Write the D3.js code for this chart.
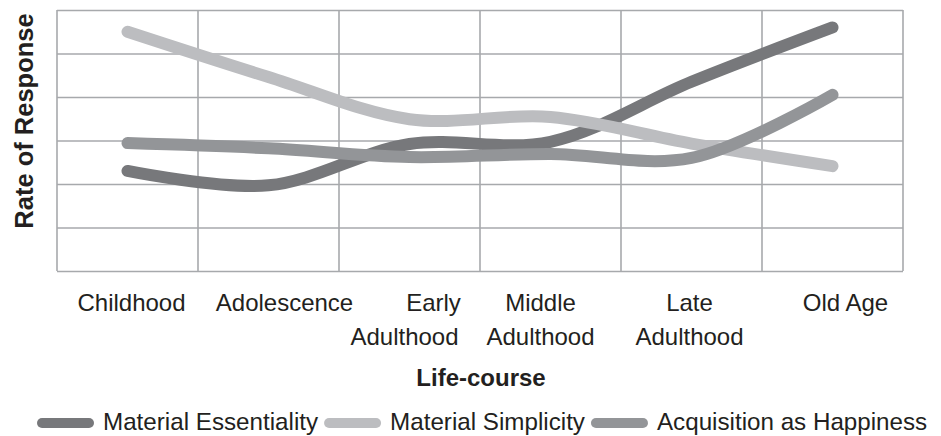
<!DOCTYPE html>
<html>
<head>
<meta charset="utf-8">
<script src="https://cdn.jsdelivr.net/npm/d3@7"></script>
<style>
  body { margin: 0; background: #fff; }
  svg { display: block; font-family: "Liberation Sans", Arial, sans-serif; }
  .grid line, .grid path { stroke: #a7a9ac; stroke-width: 1.6; }
  .grid text { display: none; }
  .xlab text { font-size: 24px; fill: #231f20; }
</style>
</head>
<body>
<div class="chart"></div>
<script>
// stages of life on the x axis
var stages = ["Childhood", "Adolescence", "Early Adulthood", "Middle Adulthood", "Late Adulthood", "Old Age"];
var stageLines = [["Childhood"], ["Adolescence"], ["Early", "Adulthood"], ["Middle", "Adulthood"], ["Late", "Adulthood"], ["Old Age"]];

var seriesNames = ["Material Essentiality", "Material Simplicity", "Acquisition as Happiness"];
var essentiality = [2.3, 1.97, 2.92, 2.97, 4.35, 5.6];
var simplicity = [5.5, 4.46, 3.49, 3.54, 2.93, 2.41];
var acquisition = [2.94, 2.82, 2.62, 2.69, 2.6, 4.05];
var yTicks = [0, 1, 2, 3, 4, 5, 6];

var colors = ["#77787b", "#bcbdc0", "#939598"];

var width = 941, height = 436;
var margin = {top: 10, right: 38, bottom: 165, left: 57};
var plotW = width - margin.left - margin.right,
    plotH = height - margin.top - margin.bottom;

var svg = d3.select(".chart").append("svg")
    .attr("width", width)
    .attr("height", height);

svg.append("rect").attr("width", width).attr("height", height).attr("fill", "#fff");

var g = svg.append("g")
    .attr("transform", "translate(" + margin.left + "," + margin.top + ")");

var x = d3.scaleBand().domain(stages).range([0, plotW]).padding(0);
var y = d3.scaleLinear().domain([0, 6]).range([plotH, 0]);

// horizontal grid
g.append("g")
    .attr("class", "grid")
    .call(d3.axisLeft(y).tickValues(yTicks).tickSize(-plotW).tickFormat(""))
    .call(function(s) { s.select(".domain").remove(); });

// vertical grid on band edges
var edges = stages.map(function(d) { return x(d); }).concat([plotW]);
g.append("g")
    .attr("class", "grid")
    .selectAll("line")
    .data(edges)
    .enter().append("line")
    .attr("x1", function(d) { return d; })
    .attr("x2", function(d) { return d; })
    .attr("y1", 0)
    .attr("y2", plotH);

// lines
var allSeries = [essentiality, simplicity, acquisition];
var line = d3.line()
    .x(function(d, i) { return x(stages[i]) + x.bandwidth() / 2; })
    .y(function(d) { return y(d); })
    .curve(d3.curveCatmullRom.alpha(0.5));

g.selectAll(".series")
    .data(allSeries)
    .enter().append("path")
    .attr("class", "series")
    .attr("d", line)
    .attr("fill", "none")
    .attr("stroke", function(d, i) { return colors[i]; })
    .attr("stroke-width", 12)
    .attr("stroke-linecap", "round")
    .attr("stroke-linejoin", "round");

// x labels (hand-placed nudges, like the original)
var nudge = [[4], [16], [24, -5], [-10, -10], [-2, -2], [13]];
var xAxis = g.append("g")
    .attr("class", "xlab")
    .attr("transform", "translate(0," + plotH + ")")
    .call(d3.axisBottom(x).tickSize(0).tickFormat(""));
xAxis.select(".domain").remove();
xAxis.selectAll(".tick").each(function(d, i) {
    var t = d3.select(this).append("text")
        .attr("text-anchor", "middle")
        .attr("y", 40);
    stageLines[i].forEach(function(s, j) {
        t.append("tspan")
            .attr("x", nudge[i][j])
            .attr("dy", j === 0 ? 0 : 34)
            .text(s);
    });
});

// axis titles
svg.append("text")
    .attr("x", 481).attr("y", 386)
    .attr("text-anchor", "middle")
    .style("font-size", "24px").style("font-weight", "bold").style("fill", "#231f20")
    .text("Life-course");

svg.append("text")
    .attr("transform", "translate(33,121) rotate(-90)")
    .attr("text-anchor", "middle")
    .style("font-size", "25.5px").style("font-weight", "bold").style("fill", "#231f20")
    .text("Rate of Response");

// legend
var legend = svg.append("g").attr("transform", "translate(37,423)");
var lx = 0;
seriesNames.forEach(function(name, i) {
    legend.append("rect")
        .attr("x", lx).attr("y", -5)
        .attr("width", 57).attr("height", 10)
        .attr("rx", 5)
        .attr("fill", colors[i]);
    var t = legend.append("text")
        .attr("x", lx + 66).attr("y", 7)
        .style("font-size", "24.2px").style("fill", "#231f20")
        .text(name);
    lx += 66 + t.node().getComputedTextLength() + 6;
});
</script>
</body>
</html>
